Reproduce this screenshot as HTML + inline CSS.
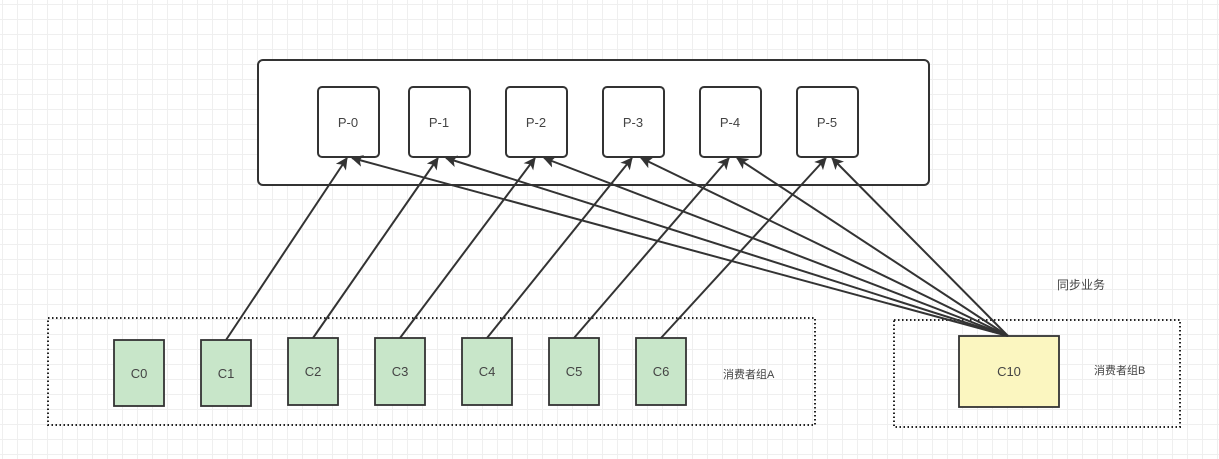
<!DOCTYPE html>
<html><head><meta charset="utf-8"><style>
html,body{margin:0;padding:0}
body{width:1219px;height:459px;overflow:hidden;background:#fff;
background-image:linear-gradient(#efefef 1px,transparent 1px),linear-gradient(90deg,#efefef 1px,transparent 1px);background-size:15px 15px;background-position:2px 4px}
</style></head><body>
<svg width="1219" height="459" xmlns="http://www.w3.org/2000/svg" style="position:absolute;left:0;top:0" font-family="Liberation Sans, Noto Sans CJK SC, sans-serif">
<defs><marker id="a" markerWidth="12" markerHeight="12" refX="11" refY="6" orient="auto" markerUnits="userSpaceOnUse"><path d="M0,0 L12,6 L0,12 L3,6 z" fill="#333"/></marker></defs>
<rect x="258" y="60" width="671" height="125" rx="5" fill="#fff" stroke="#333" stroke-width="2"/>
<g fill="#fff" stroke="#333" stroke-width="2">
<rect x="318" y="87" width="61" height="70" rx="4"/><rect x="409" y="87" width="61" height="70" rx="4"/><rect x="506" y="87" width="61" height="70" rx="4"/><rect x="603" y="87" width="61" height="70" rx="4"/><rect x="700" y="87" width="61" height="70" rx="4"/><rect x="797" y="87" width="61" height="70" rx="4"/>
</g>
<g font-size="13" fill="#444" text-anchor="middle">
<text x="348" y="127">P-0</text><text x="439" y="127">P-1</text><text x="536" y="127">P-2</text><text x="633" y="127">P-3</text><text x="730" y="127">P-4</text><text x="827" y="127">P-5</text>
</g>
<rect x="48" y="318" width="767" height="107" fill="none" stroke="#222" stroke-width="2" stroke-dasharray="1.5,2.5"/>
<rect x="894" y="320" width="286" height="107" fill="none" stroke="#222" stroke-width="2" stroke-dasharray="1.5,2.5"/>
<g fill="#c8e6c9" stroke="#333" stroke-width="1.8">
<rect x="114" y="340" width="50" height="66"/><rect x="201" y="340" width="50" height="66"/><rect x="288" y="338" width="50" height="67"/><rect x="375" y="338" width="50" height="67"/><rect x="462" y="338" width="50" height="67"/><rect x="549" y="338" width="50" height="67"/><rect x="636" y="338" width="50" height="67"/>
</g>
<rect x="959" y="336" width="100" height="71" fill="#fbf6c0" stroke="#333" stroke-width="1.8"/>
<g font-size="13" fill="#444" text-anchor="middle">
<text x="139" y="378">C0</text><text x="226" y="378">C1</text><text x="313" y="376">C2</text><text x="400" y="376">C3</text><text x="487" y="376">C4</text><text x="574" y="376">C5</text><text x="661" y="376">C6</text><text x="1009" y="376">C10</text>
</g>
<g font-size="11" fill="#444">
<text x="723" y="378">消费者组A</text><text x="1094" y="374">消费者组B</text><text x="1057" y="289" font-size="12">同步业务</text>
</g>
<g stroke="#333" stroke-width="2" marker-end="url(#a)" fill="none">
<line x1="226" y1="340" x2="347" y2="158"/>
<line x1="313" y1="338" x2="438" y2="158"/>
<line x1="400" y1="338" x2="535" y2="158"/>
<line x1="487" y1="338" x2="632" y2="158"/>
<line x1="574" y1="338" x2="729" y2="158"/>
<line x1="661" y1="338" x2="826" y2="158"/>
<line x1="1008" y1="336" x2="352" y2="158"/>
<line x1="1008" y1="336" x2="446" y2="158"/>
<line x1="1008" y1="336" x2="544" y2="158"/>
<line x1="1008" y1="336" x2="641" y2="158"/>
<line x1="1008" y1="336" x2="737" y2="158"/>
<line x1="1008" y1="336" x2="832" y2="158"/>
</g>
</svg>
</body></html>
